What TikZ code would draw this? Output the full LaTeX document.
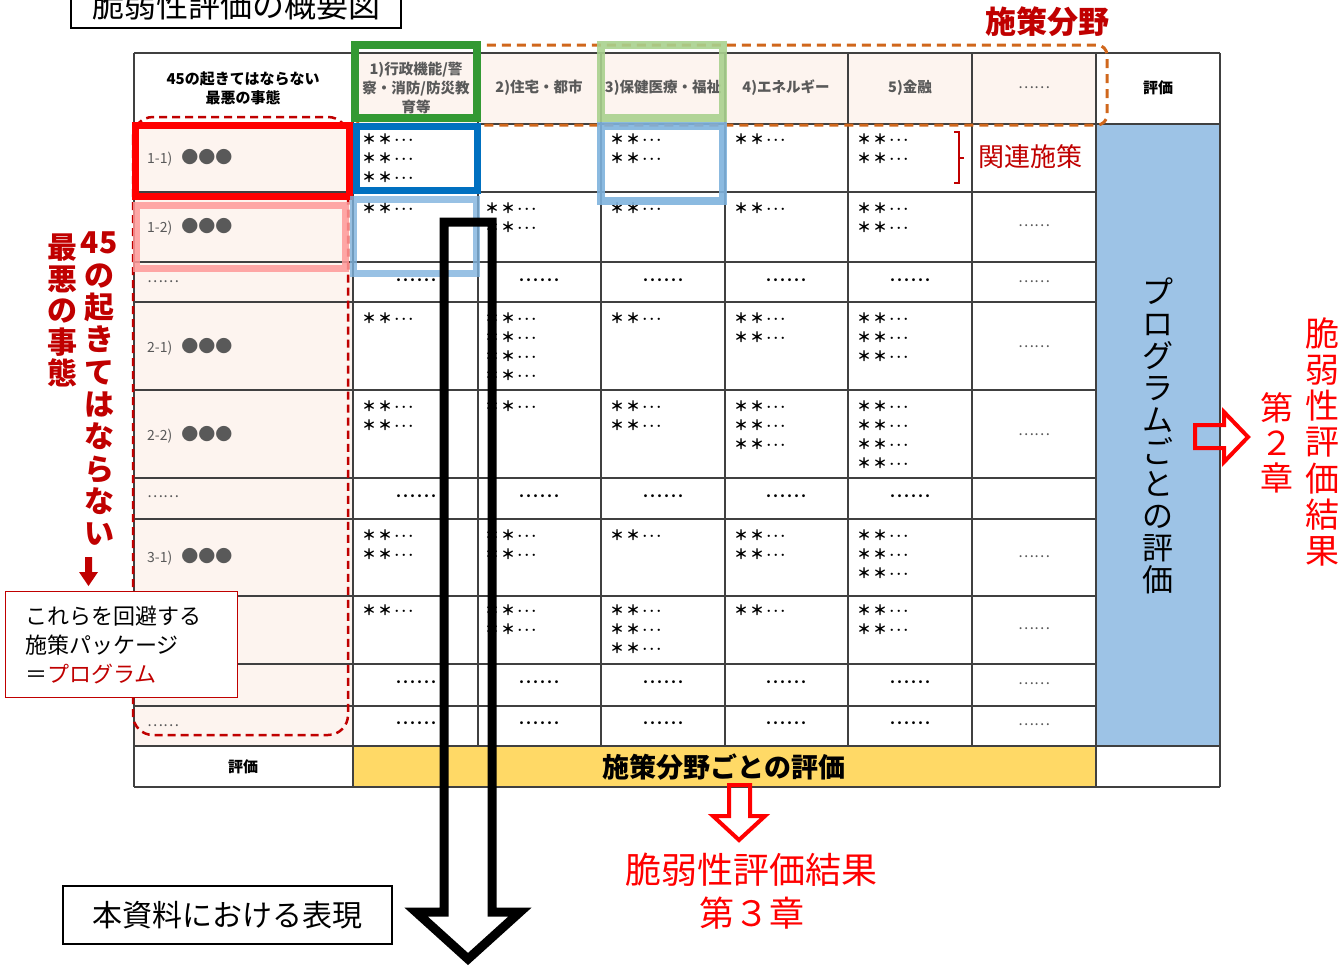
\documentclass[tikz,border=0pt]{standalone}
\usepackage{fontspec}
\setmainfont{Noto Sans CJK JP}
\usetikzlibrary{calc}
\definecolor{peach}{HTML}{FDF4EF}
\definecolor{bluecol}{HTML}{9DC3E6}
\definecolor{yellowband}{HTML}{FFD966}
\definecolor{darkred}{HTML}{C00000}
\definecolor{purered}{HTML}{FF0000}
\definecolor{orangedash}{HTML}{D0671C}
\definecolor{greenbox}{HTML}{339933}
\definecolor{lightgreen}{HTML}{A9D18E}
\definecolor{darkblue}{HTML}{0070C0}
\definecolor{lightblue}{HTML}{7EB2DD}
\definecolor{pinkbox}{HTML}{FF9999}
\definecolor{gridc}{HTML}{404040}
\definecolor{txtgray}{HTML}{595959}
\newcommand\fs[1]{\fontsize{#1}{#1}\selectfont}
\newcommand\astxt{{\fs{14}＊\hspace{2pt}＊}\hspace{2pt}･\hspace{1.5pt}･\hspace{1.5pt}･}
\newcommand\dotstxt{･･････}
\newcommand\starcol[4]{\foreach \i in {1,...,#4}{\node[astn] (s#1-\i) at (#2,{#3+(\i-1)*19}) {\astxt};}}
\tikzset{
  gridline/.style={draw=gridc, line width=1.4pt},
  astn/.style={anchor=west, inner sep=0pt, font=\fs{11}\bfseries},
  dotn/.style={inner sep=0pt, font=\fs{14}\bfseries},
  elln/.style={inner sep=0pt, text=txtgray, font=\fs{15}},
  hdrn/.style={inner sep=0pt, text=txtgray, font=\fontsize{14.5}{19}\selectfont\bfseries, align=center},
  labn/.style={anchor=west, inner sep=0pt, text=txtgray},
  hlbox/.style={line width=7pt},
  redarrow/.style={draw=purered, line width=4pt},
}
\begin{document}
\begin{tikzpicture}[x=1pt,y=-1pt]
\useasboundingbox (0,0) rectangle (1343,967);
% title
\draw[line width=1.4pt] (71,-10) rectangle (401,28);
\node[inner sep=0pt, font=\fs{32}] (title) at (236,5) {脆弱性評価の概要図};
\node[inner sep=0pt, text=darkred, font=\fs{31}\bfseries] (sakubunya) at (1047,22) {施策分野};
% fills
\fill[peach] (353,53) rectangle (1096,124);
\fill[peach] (134,124) rectangle (353,746);
\fill[bluecol] (1096,124) rectangle (1220,746);
\fill[yellowband] (353,746) rectangle (1096,787);
% grid
\foreach \yy in {192,262,302,390,478,519,596,664,706} \draw[gridline] (134,\yy) -- (1096,\yy);
\foreach \yy in {53,124,746,787} \draw[gridline] (134,\yy) -- (1220,\yy);
\foreach \xx in {478,601,725,848,972} \draw[gridline] (\xx,53) -- (\xx,746);
\foreach \xx in {134,353,1096} \draw[gridline] (\xx,53) -- (\xx,787);
\draw[draw=gridc, line width=2.2pt] (1220,53) -- (1220,787);
% header
\node[inner sep=0pt, font=\fontsize{15}{19}\selectfont\bfseries, align=center] (h0) at (243,88) {45の起きてはならない\\最悪の事態};
\node[hdrn] (h1) at (416,88) {1)行政機能/警\\察・消防/防災教\\育等};
\node[hdrn] (h2) at (539,88) {2)住宅・都市};
\node[hdrn] (h3) at (663,88) {3)保健医療・福祉};
\node[hdrn] (h4) at (786,88) {4)エネルギー};
\node[hdrn] (h5) at (910,88) {5)金融};
\node[elln] (h6) at (1034,88) {……};
\node[inner sep=0pt, font=\fs{15}\bfseries] (h7) at (1158,88) {評価};
\node[inner sep=0pt, font=\fs{15}\bfseries] (hb) at (243,767) {評価};
% row labels
\node[labn] (r11) at (147,158) {{\fs{14}1-1)}\hspace{9pt}{\fs{17}●●●}};
\node[labn] (r12) at (147,227) {{\fs{14}1-2)}\hspace{9pt}{\fs{17}●●●}};
\node[labn, font=\fs{15}] (r1d) at (147,282) {……};
\node[labn] (r21) at (147,347) {{\fs{14}2-1)}\hspace{9pt}{\fs{17}●●●}};
\node[labn] (r22) at (147,435) {{\fs{14}2-2)}\hspace{9pt}{\fs{17}●●●}};
\node[labn, font=\fs{15}] (r2d) at (147,497) {……};
\node[labn] (r31) at (147,557) {{\fs{14}3-1)}\hspace{9pt}{\fs{17}●●●}};
\node[labn, font=\fs{15}] (r3d) at (147,726) {……};
% star cells
\starcol{a1}{362}{139}{3}
\starcol{a3}{610}{139}{2}
\starcol{a4}{734}{139}{1}
\starcol{a5}{857}{139}{2}
\starcol{b1}{362}{208}{1}
\starcol{b2}{485}{208}{2}
\starcol{b3}{610}{208}{1}
\starcol{b4}{734}{208}{1}
\starcol{b5}{857}{208}{2}
\starcol{c1}{362}{318}{1}
\starcol{c2}{485}{318}{4}
\starcol{c3}{610}{318}{1}
\starcol{c4}{734}{318}{2}
\starcol{c5}{857}{318}{3}
\starcol{d1}{362}{406}{2}
\starcol{d2}{485}{406}{1}
\starcol{d3}{610}{406}{2}
\starcol{d4}{734}{406}{3}
\starcol{d5}{857}{406}{4}
\starcol{e1}{362}{535}{2}
\starcol{e2}{485}{535}{2}
\starcol{e3}{610}{535}{1}
\starcol{e4}{734}{535}{2}
\starcol{e5}{857}{535}{3}
\starcol{f1}{362}{610}{1}
\starcol{f2}{485}{610}{2}
\starcol{f3}{610}{610}{3}
\starcol{f4}{734}{610}{1}
\starcol{f5}{857}{610}{2}
% dots rows
\foreach \yy/\nm in {282/p,498/q,684/r,725/t}{
  \foreach \xx/\k in {416/1,539/2,663/3,786/4,910/5}{
    \node[dotn] (dt\nm\k) at (\xx,\yy) {\dotstxt};
  }
}
\foreach \yy/\nm in {226/a,282/b,347/c,435/d,557/e,629/f,684/g,725/h}{
  \node[elln] (el\nm) at (1034,\yy) {……};
}
% related measures
\draw[darkred, line width=1.2pt] (954,132) -- (959,132) -- (959,183) -- (954,183);
\draw[darkred, line width=1.2pt] (959,158) -- (964,158);
\node[inner sep=0pt, text=darkred, font=\fs{26}] (kanren) at (1030,157) {関連施策};
% blue column text
\node[inner sep=0pt, font=\fontsize{31}{32}\selectfont, align=center, anchor=north] (prog) at (1158,278) {プ\\ロ\\グ\\ラ\\ム\\ご\\と\\の\\評\\価};
% yellow band text
\node[inner sep=0pt, font=\fs{27}\bfseries] (band) at (724,767) {施策分野ごとの評価};
% dashed frames
\draw[orangedash, line width=3pt, dash pattern=on 9pt off 6pt, rounded corners=10pt] (355,45) rectangle (1107,125);
\draw[darkred, line width=2.5pt, dash pattern=on 8pt off 5pt, rounded corners=20pt] (133,117) rectangle (348,735);
% highlight boxes
\draw[hlbox, pinkbox, opacity=0.85] (136,205) rectangle (345,268);
\draw[hlbox, purered] (135,125) rectangle (349,196);
\draw[hlbox, line width=8pt, greenbox] (355,45) rectangle (477,118);
\draw[hlbox, line width=8pt, lightgreen, opacity=0.9] (601,45) rectangle (723,118);
\draw[hlbox, darkblue] (356,126) rectangle (477,190);
\draw[hlbox, line width=8pt, lightblue, opacity=0.9] (601,126) rectangle (723,201);
\draw[hlbox, lightblue, opacity=0.8] (353,199) rectangle (476,273);
% big hollow arrow
\draw[line width=9pt, black, miter limit=10] (444,222) -- (492,222) -- (492,912) -- (520,912) -- (468,959) -- (416,912) -- (444,912) -- cycle;
% left vertical red text
\node[inner sep=0pt, text=darkred, font=\fontsize{30}{32.3}\selectfont\bfseries, align=center, anchor=north] (v45) at (99,232) {45\\の\\起\\き\\て\\は\\な\\ら\\な\\い};
\node[inner sep=0pt, text=darkred, font=\fontsize{30}{31.5}\selectfont\bfseries, align=center, anchor=north] (vsaiaku) at (62,234) {最\\悪\\の\\事\\態};
\fill[darkred] (85,557) -- (92,557) -- (92,572) -- (98,572) -- (88.5,586) -- (79,572) -- (85,572) -- cycle;
% callout box
\node[draw=darkred, fill=white, line width=1.4pt, anchor=north west, minimum width=232pt, minimum height=106pt, inner sep=0pt] (callout) at (5,591) {};
\node[inner sep=0pt, anchor=west, align=left, font=\fontsize{22}{29}\selectfont] (callouttxt) at (25,645) {これらを回避する\\施策パッケージ\\＝\textcolor{darkred}{プログラム}};
% right red arrow and text
\draw[redarrow] (1195,425) -- (1224,425) -- (1224,412) -- (1248,437) -- (1224,462) -- (1224,448) -- (1195,448) -- cycle;
\node[inner sep=0pt, text=purered, font=\fontsize{33}{35}\selectfont, align=center, anchor=north] (dai2) at (1277,392) {第\\２\\章};
\node[inner sep=0pt, text=purered, font=\fontsize{34}{36.3}\selectfont, align=center, anchor=north] (kekka2) at (1322,317) {脆\\弱\\性\\評\\価\\結\\果};
% bottom red arrow and text
\draw[redarrow] (729,785) -- (750,785) -- (750,816) -- (765,816) -- (739,840) -- (713,816) -- (729,816) -- cycle;
\node[inner sep=0pt, text=purered, font=\fs{36}] (kekka3) at (751,870) {脆弱性評価結果};
\node[inner sep=0pt, text=purered, font=\fs{35}] (dai3) at (752,913) {第３章};
% expression box
\node[draw=black, line width=1.4pt, minimum width=329pt, minimum height=58pt, inner sep=0pt, font=\fs{30}] (hyogen) at (227.5,915) {本資料における表現};
\end{tikzpicture}
\end{document}
